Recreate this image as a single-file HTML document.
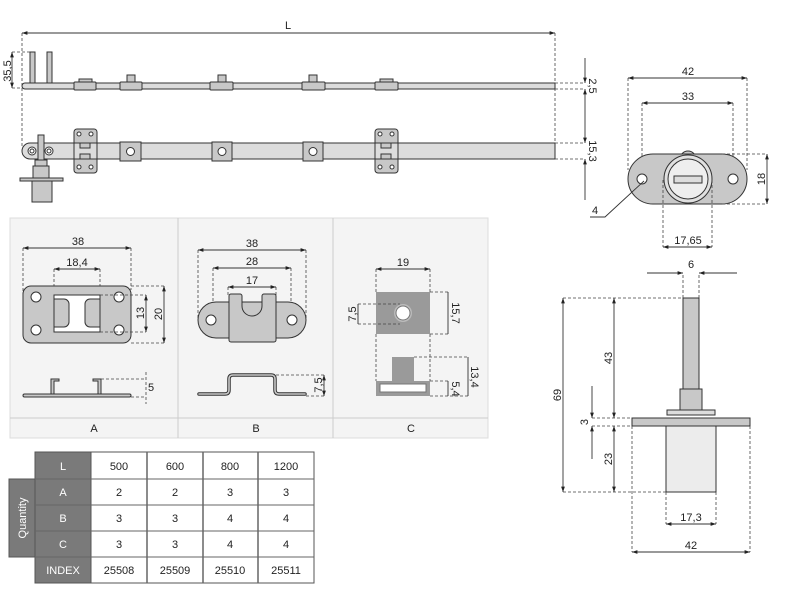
<!DOCTYPE html>
<html><head><meta charset="utf-8"><style>
html,body{margin:0;padding:0;background:#fff;}
svg{display:block;}
text{font-family:"Liberation Sans",sans-serif;font-size:11px;fill:#222;}
.d{stroke:#444;stroke-width:0.8;stroke-dasharray:3,2;fill:none;}
.l{stroke:#333;stroke-width:0.9;fill:none;}
.p{fill:#c8c8c8;stroke:#333;stroke-width:1;}
.pl{fill:#dcdcdc;stroke:#333;stroke-width:1;}
.w{fill:#fff;stroke:#333;stroke-width:1;}
</style></head><body>
<svg width="800" height="600" viewBox="0 0 800 600" xmlns="http://www.w3.org/2000/svg">
<defs>
<marker id="a" viewBox="0 0 10 10" refX="10" refY="5" markerWidth="8" markerHeight="6" orient="auto-start-reverse"><path d="M0,1.5 L10,5 L0,8.5z" fill="#222"/></marker>
</defs>
<g id="top">
<line class="l" x1="22" y1="33" x2="555" y2="33" marker-start="url(#a)" marker-end="url(#a)"/>
<text x="288" y="29" text-anchor="middle">L</text>
<line class="d" x1="22" y1="33" x2="22" y2="148"/>
<line class="d" x1="555" y1="33" x2="555" y2="143"/>
<line class="d" x1="12" y1="52" x2="30" y2="52"/>
<line class="d" x1="12" y1="88" x2="22" y2="88"/>
<line class="l" x1="12" y1="52" x2="12" y2="88" marker-start="url(#a)" marker-end="url(#a)"/>
<text transform="translate(11,71) rotate(-90)" text-anchor="middle" font-size="10">35,5</text>
<rect class="p" x="30" y="52" width="5" height="31"/>
<rect class="p" x="47" y="52" width="5" height="31"/>
<path class="pl" d="M25,83 H555 V89 H25 A3,3 0 0 1 25,83z"/>
<rect class="p" x="79" y="79" width="13" height="4"/>
<rect class="p" x="74" y="82" width="22" height="8" rx="1"/>
<rect class="p" x="127" y="75" width="8" height="7"/>
<rect class="p" x="120" y="82" width="22" height="8" rx="1"/>
<rect class="p" x="218" y="75" width="8" height="7"/>
<rect class="p" x="210" y="82" width="23" height="8" rx="1"/>
<rect class="p" x="309" y="75" width="8" height="7"/>
<rect class="p" x="302" y="82" width="23" height="8" rx="1"/>
<rect class="p" x="380" y="79" width="13" height="4"/>
<rect class="p" x="375" y="82" width="23" height="8" rx="1"/>
<path class="pl" d="M30,143 H555 V159 H30 A8,8 0 0 1 30,143z"/>
<circle class="w" cx="32" cy="151" r="4"/><circle cx="32" cy="151" r="2" fill="none" stroke="#333"/>
<circle class="w" cx="49" cy="151" r="4"/><circle cx="49" cy="151" r="2" fill="none" stroke="#333"/>
<rect class="p" x="38" y="135" width="6" height="30"/>
<rect class="p" x="35" y="160" width="12" height="6"/>
<rect class="p" x="33" y="166" width="16" height="12"/>
<rect class="p" x="20" y="178" width="43" height="3"/>
<rect class="p" x="32" y="181" width="20" height="21"/>
<g id="pa">
<rect class="p" x="74" y="129" width="23" height="44" rx="3"/>
<circle class="w" cx="79" cy="134" r="2"/><circle class="w" cx="91" cy="134" r="2"/>
<circle class="w" cx="79" cy="167" r="2"/><circle class="w" cx="91" cy="167" r="2"/>
<rect class="pl" x="74" y="143" width="23" height="16" stroke="none"/>
<line class="l" x1="74" y1="143" x2="97" y2="143"/><line class="l" x1="74" y1="159" x2="97" y2="159"/>
<rect class="p" x="80" y="143" width="10" height="5"/>
<rect class="p" x="80" y="154" width="10" height="5"/>
</g>
<use href="#pa" x="301"/>
<rect class="p" x="120" y="142" width="21" height="19"/><circle class="w" cx="130.5" cy="151.5" r="4"/>
<rect class="p" x="212" y="142" width="20" height="19"/><circle class="w" cx="222" cy="151.5" r="4"/>
<rect class="p" x="303" y="142" width="20" height="19"/><circle class="w" cx="313" cy="151.5" r="4"/>
<line class="d" x1="555" y1="83" x2="585" y2="83"/>
<line class="d" x1="555" y1="89" x2="585" y2="89"/>
<line class="d" x1="555" y1="143" x2="585" y2="143"/>
<line class="d" x1="555" y1="159" x2="585" y2="159"/>
<line class="l" x1="585" y1="58" x2="585" y2="83" marker-end="url(#a)"/>
<line class="l" x1="585" y1="89" x2="585" y2="143" marker-start="url(#a)" marker-end="url(#a)"/>
<line class="l" x1="585" y1="159" x2="585" y2="200" marker-start="url(#a)"/>
<text transform="translate(589,86) rotate(90)" text-anchor="middle" font-size="10">2,5</text>
<text transform="translate(589,151) rotate(90)" text-anchor="middle" font-size="10">15,3</text>
</g>
<g>
<line class="d" x1="628" y1="78" x2="628" y2="170"/>
<line class="d" x1="747" y1="78" x2="747" y2="170"/>
<line class="l" x1="628" y1="78" x2="747" y2="78" marker-start="url(#a)" marker-end="url(#a)"/>
<text x="688" y="75" text-anchor="middle">42</text>
<line class="d" x1="642" y1="103" x2="642" y2="178"/>
<line class="d" x1="733" y1="103" x2="733" y2="178"/>
<line class="l" x1="642" y1="103" x2="733" y2="103" marker-start="url(#a)" marker-end="url(#a)"/>
<text x="688" y="100" text-anchor="middle">33</text>
<circle class="p" cx="688" cy="159" r="8"/>
<path class="p" d="M653,154 H722 A25,25 0 0 1 722,204 H653 A25,25 0 0 1 653,154z"/>
<circle cx="688" cy="179" r="24" fill="#e0e0e0" stroke="#333"/>
<circle cx="688" cy="179" r="20" fill="#eee" stroke="#333"/>
<rect x="674" y="176" width="28" height="7" fill="#ddd" stroke="#333"/>
<circle class="w" cx="642" cy="179" r="5"/>
<circle class="w" cx="733" cy="179" r="5"/>
<line class="d" x1="722" y1="154" x2="767" y2="154"/>
<line class="d" x1="722" y1="204" x2="767" y2="204"/>
<line class="l" x1="767" y1="154" x2="767" y2="204" marker-start="url(#a)" marker-end="url(#a)"/>
<text transform="translate(765,179) rotate(-90)" text-anchor="middle">18</text>
<line class="d" x1="663" y1="180" x2="663" y2="247"/>
<line class="d" x1="712" y1="180" x2="712" y2="247"/>
<line class="l" x1="663" y1="247" x2="712" y2="247" marker-start="url(#a)" marker-end="url(#a)"/>
<text x="688" y="244" text-anchor="middle">17,65</text>
<polyline class="l" points="644,181 605,217 590,217"/>
<text x="595" y="214" text-anchor="middle">4</text>
</g>
<rect x="10" y="218" width="478" height="220" fill="#f4f4f4" stroke="#ddd"/>
<line x1="10" y1="418" x2="488" y2="418" stroke="#ccc"/>
<line x1="178" y1="218" x2="178" y2="438" stroke="#ccc"/>
<line x1="333" y1="218" x2="333" y2="438" stroke="#ccc"/>
<text x="94" y="432" text-anchor="middle">A</text>
<text x="256" y="432" text-anchor="middle">B</text>
<text x="411" y="432" text-anchor="middle">C</text>
<g>
<line class="d" x1="23" y1="248" x2="23" y2="300"/><line class="d" x1="131" y1="248" x2="131" y2="290"/>
<line class="l" x1="23" y1="248" x2="131" y2="248" marker-start="url(#a)" marker-end="url(#a)"/>
<text x="78" y="245" text-anchor="middle">38</text>
<line class="d" x1="54" y1="269" x2="54" y2="295"/><line class="d" x1="100" y1="269" x2="100" y2="295"/>
<line class="l" x1="54" y1="269" x2="100" y2="269" marker-start="url(#a)" marker-end="url(#a)"/>
<text x="77" y="266" text-anchor="middle">18,4</text>
<rect class="p" x="23" y="286" width="108" height="57" rx="8"/>
<rect x="54" y="295" width="46" height="37" fill="#fff" stroke="#333"/>
<path class="p" d="M54,299 H64 A5,5 0 0 1 69,304 V322 A5,5 0 0 1 64,327 H54z"/>
<path class="p" d="M100,299 H90 A5,5 0 0 0 85,304 V322 A5,5 0 0 0 90,327 H100z"/>
<circle class="w" cx="36" cy="297" r="5"/><circle class="w" cx="119" cy="297" r="5"/>
<circle class="w" cx="36" cy="330" r="5"/><circle class="w" cx="119" cy="330" r="5"/>
<line class="d" x1="100" y1="295" x2="146" y2="295"/><line class="d" x1="100" y1="332" x2="146" y2="332"/>
<line class="d" x1="131" y1="286" x2="164" y2="286"/><line class="d" x1="131" y1="343" x2="164" y2="343"/>
<line class="l" x1="146" y1="295" x2="146" y2="332" marker-start="url(#a)" marker-end="url(#a)"/>
<line class="l" x1="164" y1="286" x2="164" y2="343" marker-start="url(#a)" marker-end="url(#a)"/>
<text transform="translate(144,313) rotate(-90)" text-anchor="middle">13</text>
<text transform="translate(162,314) rotate(-90)" text-anchor="middle">20</text>
<rect class="p" x="23" y="394" width="108" height="3" rx="1.5"/>
<path class="p" d="M51,394 V379 H59 V381 H54 V394z"/>
<path class="p" d="M101,394 V379 H93 V381 H98 V394z"/>
<line class="d" x1="101" y1="379" x2="146" y2="379"/><line class="d" x1="131" y1="397" x2="146" y2="397"/>
<line class="d" x1="146" y1="372" x2="146" y2="404"/>
<text x="151" y="391" text-anchor="middle">5</text>
</g>
<g>
<line class="d" x1="198" y1="250" x2="198" y2="320"/><line class="d" x1="306" y1="250" x2="306" y2="320"/>
<line class="l" x1="198" y1="250" x2="306" y2="250" marker-start="url(#a)" marker-end="url(#a)"/>
<text x="252" y="247" text-anchor="middle">38</text>
<line class="d" x1="213" y1="268" x2="213" y2="320"/><line class="d" x1="291" y1="268" x2="291" y2="320"/>
<line class="l" x1="213" y1="268" x2="291" y2="268" marker-start="url(#a)" marker-end="url(#a)"/>
<text x="252" y="265" text-anchor="middle">28</text>
<line class="d" x1="228" y1="287" x2="228" y2="295"/><line class="d" x1="276" y1="287" x2="276" y2="295"/>
<line class="l" x1="228" y1="287" x2="276" y2="287" marker-start="url(#a)" marker-end="url(#a)"/>
<text x="252" y="284" text-anchor="middle">17</text>
<path class="p" d="M216,302 H288 A18,18 0 0 1 288,338 H216 A18,18 0 0 1 216,302z"/>
<path class="p" d="M231,294 H240 A2,2 0 0 1 242,296 V306 A10,10 0 0 0 262,306 V296 A2,2 0 0 1 264,294 H274 A2,2 0 0 1 276,296 V340 A2,2 0 0 1 274,342 H231 A2,2 0 0 1 229,340 V296 A2,2 0 0 1 231,294z"/>
<circle class="w" cx="211" cy="320" r="5"/><circle class="w" cx="292" cy="320" r="5"/>
<path d="M199,394 H225 Q229,394 229,390 V379 Q229,375 233,375 H271 Q275,375 275,379 V390 Q275,394 279,394 H305" fill="none" stroke="#333" stroke-width="3.5" stroke-linecap="round"/>
<path d="M199,394 H225 Q229,394 229,390 V379 Q229,375 233,375 H271 Q275,375 275,379 V390 Q275,394 279,394 H305" fill="none" stroke="#c8c8c8" stroke-width="1.6" stroke-linecap="round"/>
<line class="d" x1="276" y1="375" x2="324" y2="375"/><line class="d" x1="306" y1="396" x2="324" y2="396"/>
<line class="l" x1="324" y1="375" x2="324" y2="396" marker-start="url(#a)" marker-end="url(#a)"/>
<text transform="translate(322,385) rotate(-90)" text-anchor="middle">7,5</text>
</g>
<g>
<line class="d" x1="376" y1="269" x2="376" y2="292"/><line class="d" x1="430" y1="269" x2="430" y2="292"/>
<line class="l" x1="376" y1="269" x2="430" y2="269" marker-start="url(#a)" marker-end="url(#a)"/>
<text x="403" y="266" text-anchor="middle">19</text>
<rect x="376" y="292" width="54" height="42" fill="#9a9a9a"/>
<circle cx="403" cy="313" r="9" fill="#bbb"/><circle cx="403" cy="313" r="7" fill="#fff" stroke="#777"/>
<line class="d" x1="358" y1="304" x2="400" y2="304"/><line class="d" x1="358" y1="324" x2="400" y2="324"/>
<line class="l" x1="358" y1="304" x2="358" y2="324"/>
<text transform="translate(356,314) rotate(-90)" text-anchor="middle">7,5</text>
<line class="d" x1="430" y1="292" x2="448" y2="292"/><line class="d" x1="430" y1="334" x2="448" y2="334"/>
<line class="l" x1="448" y1="292" x2="448" y2="334"/>
<text transform="translate(452,313) rotate(90)" text-anchor="middle">15,7</text>
<line class="d" x1="376" y1="334" x2="376" y2="381"/><line class="d" x1="430" y1="334" x2="430" y2="381"/>
<rect x="392" y="357" width="22" height="24" fill="#9a9a9a"/>
<rect x="376" y="381" width="54" height="15" fill="#9a9a9a"/>
<rect x="380" y="384" width="46" height="8" fill="#fff" stroke="#777"/>
<line class="d" x1="414" y1="357" x2="468" y2="357"/>
<line class="d" x1="430" y1="381" x2="448" y2="381"/>
<line class="d" x1="430" y1="396" x2="468" y2="396"/>
<line class="l" x1="468" y1="357" x2="468" y2="396"/>
<line class="l" x1="448" y1="381" x2="448" y2="396"/>
<text transform="translate(471,377) rotate(90)" text-anchor="middle">13,4</text>
<text transform="translate(452,389) rotate(90)" text-anchor="middle">5,4</text>
</g>
<g>
<line class="l" x1="647" y1="273" x2="683" y2="273" marker-end="url(#a)"/>
<line class="l" x1="737" y1="273" x2="699" y2="273" marker-end="url(#a)"/>
<text x="691" y="268" text-anchor="middle">6</text>
<line class="d" x1="683" y1="275" x2="683" y2="298"/><line class="d" x1="699" y1="275" x2="699" y2="298"/>
<rect class="p" x="683" y="298" width="16" height="91"/>
<rect class="p" x="680" y="389" width="22" height="26"/>
<rect class="pl" x="667" y="410" width="48" height="5"/>
<rect class="p" x="632" y="418" width="118" height="8"/>
<rect x="666" y="426" width="50" height="66" fill="#ececec" stroke="#333"/>
<line class="d" x1="563" y1="298" x2="683" y2="298"/>
<line class="d" x1="592" y1="418" x2="632" y2="418"/>
<line class="d" x1="592" y1="426" x2="632" y2="426"/>
<line class="d" x1="563" y1="492" x2="666" y2="492"/>
<line class="l" x1="563" y1="298" x2="563" y2="492" marker-start="url(#a)" marker-end="url(#a)"/>
<text transform="translate(561,395) rotate(-90)" text-anchor="middle">69</text>
<line class="l" x1="614" y1="298" x2="614" y2="418" marker-start="url(#a)" marker-end="url(#a)"/>
<text transform="translate(612,358) rotate(-90)" text-anchor="middle">43</text>
<line class="l" x1="592" y1="386" x2="592" y2="418" marker-end="url(#a)"/>
<line class="l" x1="592" y1="459" x2="592" y2="426" marker-end="url(#a)"/>
<text transform="translate(588,422) rotate(-90)" text-anchor="middle">3</text>
<line class="l" x1="614" y1="426" x2="614" y2="492" marker-start="url(#a)" marker-end="url(#a)"/>
<text transform="translate(612,459) rotate(-90)" text-anchor="middle">23</text>
<line class="d" x1="666" y1="492" x2="666" y2="524"/><line class="d" x1="716" y1="492" x2="716" y2="524"/>
<line class="l" x1="666" y1="524" x2="716" y2="524" marker-start="url(#a)" marker-end="url(#a)"/>
<text x="691" y="521" text-anchor="middle">17,3</text>
<line class="d" x1="632" y1="426" x2="632" y2="552"/><line class="d" x1="750" y1="426" x2="750" y2="552"/>
<line class="l" x1="632" y1="552" x2="750" y2="552" marker-start="url(#a)" marker-end="url(#a)"/>
<text x="691" y="549" text-anchor="middle">42</text>
</g>
<g font-size="11">
<rect x="9" y="479" width="27" height="78" fill="#7a7a7a" stroke="#555"/>
<text transform="translate(26,518) rotate(-90)" text-anchor="middle" style="fill:#fff" font-size="10">Quantity</text>
<rect x="35" y="452" width="56" height="131" fill="#7a7a7a" stroke="#555"/>
<rect x="91" y="452" width="223" height="131" fill="#fff" stroke="#555"/>
<g stroke="#666" stroke-width="1">
<line x1="35" y1="479" x2="314" y2="479"/><line x1="35" y1="505" x2="314" y2="505"/>
<line x1="35" y1="531" x2="314" y2="531"/><line x1="35" y1="557" x2="314" y2="557"/>
<line x1="147" y1="452" x2="147" y2="583" stroke-width="1.5"/><line x1="203" y1="452" x2="203" y2="583" stroke-width="1.5"/>
<line x1="258" y1="452" x2="258" y2="583" stroke-width="1.5"/>
</g>
<g text-anchor="middle">
<text x="63" y="470" style="fill:#fff">L</text><text x="63" y="496" style="fill:#fff">A</text>
<text x="63" y="522" style="fill:#fff">B</text><text x="63" y="548" style="fill:#fff">C</text>
<text x="63" y="574" style="fill:#fff">INDEX</text>
</g>
<g text-anchor="middle" font-size="10.5">
<text x="119" y="470">500</text><text x="175" y="470">600</text><text x="230" y="470">800</text><text x="286" y="470">1200</text>
<text x="119" y="496">2</text><text x="175" y="496">2</text><text x="230" y="496">3</text><text x="286" y="496">3</text>
<text x="119" y="522">3</text><text x="175" y="522">3</text><text x="230" y="522">4</text><text x="286" y="522">4</text>
<text x="119" y="548">3</text><text x="175" y="548">3</text><text x="230" y="548">4</text><text x="286" y="548">4</text>
<text x="119" y="574">25508</text><text x="175" y="574">25509</text><text x="230" y="574">25510</text><text x="286" y="574">25511</text>
</g>
</g>
</svg>
</body></html>
